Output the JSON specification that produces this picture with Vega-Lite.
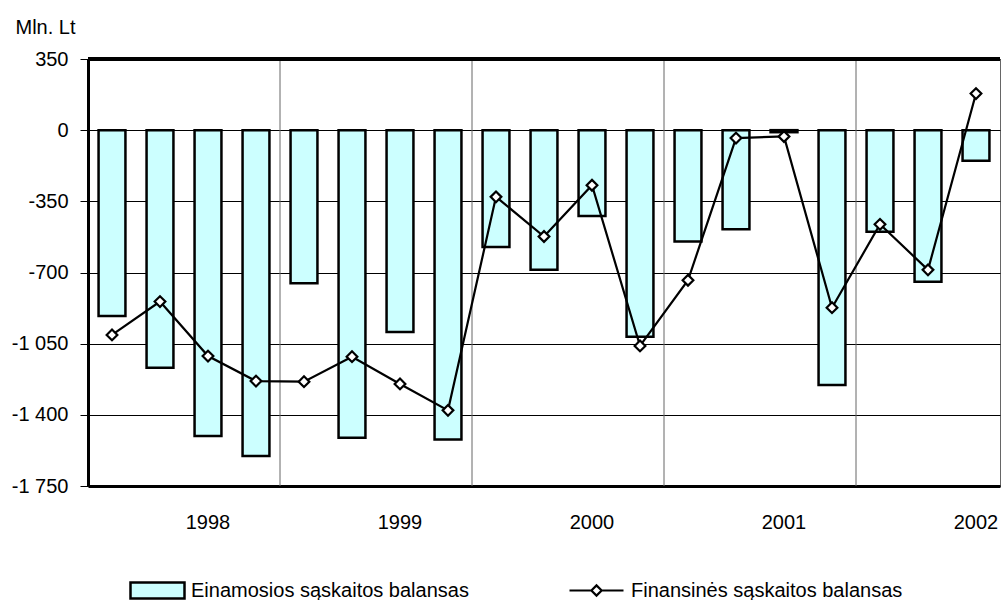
{
  "$schema": "https://vega.github.io/schema/vega-lite/v6.json",
  "width": 912,
  "height": 427,
  "autosize": {"type": "none"},
  "padding": {"left": 88, "top": 59, "right": 1, "bottom": 114},
  "background": "white",
  "config": {
    "font": "Liberation Sans",
    "view": {"stroke": "#666666", "strokeWidth": 1}
  },
  "data": {
    "values": [
      {"period": "1998 Q1", "year": 1998, "q": 1, "current": -914, "financial": -1007},
      {"period": "1998 Q2", "year": 1998, "q": 2, "current": -1168, "financial": -843},
      {"period": "1998 Q3", "year": 1998, "q": 3, "current": -1504, "financial": -1111},
      {"period": "1998 Q4", "year": 1998, "q": 4, "current": -1603, "financial": -1234},
      {"period": "1999 Q1", "year": 1999, "q": 1, "current": -753, "financial": -1237},
      {"period": "1999 Q2", "year": 1999, "q": 2, "current": -1513, "financial": -1114},
      {"period": "1999 Q3", "year": 1999, "q": 3, "current": -993, "financial": -1248},
      {"period": "1999 Q4", "year": 1999, "q": 4, "current": -1521, "financial": -1378},
      {"period": "2000 Q1", "year": 2000, "q": 1, "current": -574, "financial": -328},
      {"period": "2000 Q2", "year": 2000, "q": 2, "current": -687, "financial": -523},
      {"period": "2000 Q3", "year": 2000, "q": 3, "current": -422, "financial": -271},
      {"period": "2000 Q4", "year": 2000, "q": 4, "current": -1016, "financial": -1061},
      {"period": "2001 Q1", "year": 2001, "q": 1, "current": -548, "financial": -738},
      {"period": "2001 Q2", "year": 2001, "q": 2, "current": -487, "financial": -39},
      {"period": "2001 Q3", "year": 2001, "q": 3, "current": -10, "financial": -31},
      {"period": "2001 Q4", "year": 2001, "q": 4, "current": -1253, "financial": -873},
      {"period": "2002 Q1", "year": 2002, "q": 1, "current": -499, "financial": -463},
      {"period": "2002 Q2", "year": 2002, "q": 2, "current": -745, "financial": -687},
      {"period": "2002 Q3", "year": 2002, "q": 3, "current": -151, "financial": 180}
    ]
  },
  "layer": [
    {
      "transform": [{"filter": "datum.q == 1 && datum.year > 1998"}],
      "mark": {"type": "rule", "color": "#666666", "strokeWidth": 1},
      "encoding": {
        "x": {
          "field": "period", "type": "nominal", "sort": "ascending", "bandPosition": 0,
          "scale": {"paddingInner": 0, "paddingOuter": 0},
          "axis": {"title": null, "labelExpr": "indexof(datum.value, 'Q3') >= 0 ? substring(datum.value, 0, 4) : ''", "labelAngle": 0, "labelOverlap": false, "ticks": false, "tickSize": 0, "labelPadding": 26, "labelFontSize": 20, "labelFont": "Liberation Sans", "labelColor": "black", "domainColor": "black", "domainWidth": 3, "grid": false}
        }
      }
    },
    {
      "mark": {"type": "bar", "width": {"band": 0.56}, "stroke": "black", "strokeWidth": 2.5},
      "encoding": {
        "x": {
          "field": "period", "type": "nominal", "sort": "ascending",
          "scale": {"paddingInner": 0, "paddingOuter": 0},
          "axis": {"title": null, "labelExpr": "indexof(datum.value, 'Q3') >= 0 ? substring(datum.value, 0, 4) : ''", "labelAngle": 0, "labelOverlap": false, "ticks": false, "tickSize": 0, "labelPadding": 26, "labelFontSize": 20, "labelFont": "Liberation Sans", "labelColor": "black", "domainColor": "black", "domainWidth": 3, "grid": false}
        },
        "y": {
          "field": "current", "type": "quantitative",
          "scale": {"domain": [-1750, 350], "nice": false, "zero": false},
          "axis": {"title": "Mln. Lt", "titleAngle": 0, "titleAlign": "left", "titleBaseline": "alphabetic", "titleX": -73, "titleY": -26, "titleFontSize": 20, "titleFontWeight": "normal", "titleFont": "Liberation Sans", "titleColor": "black", "values": [-1750, -1400, -1050, -700, -350, 0, 350], "labelExpr": "(datum.value < 0 ? '-' : '') + replace(format(abs(datum.value), ','), ',', ' ')", "labelFontSize": 20, "labelFont": "Liberation Sans", "labelColor": "black", "labelPadding": 12, "tickSize": 8, "tickColor": "black", "tickWidth": 1, "domainColor": "black", "domainWidth": 3, "grid": true, "gridColor": "black", "gridWidth": 1}
        },
        "fill": {
          "datum": "Einamosios sąskaitos balansas",
          "type": "nominal",
          "scale": {"range": ["#ccffff"]},
          "legend": {
            "orient": "none", "legendX": 41, "legendY": 503, "title": null, "padding": 0,
            "symbolType": "M-1,-0.3H1V0.3H-1Z", "symbolSize": 2916,
            "symbolStrokeColor": "black", "symbolStrokeWidth": 2.5, "symbolFillColor": "#ccffff",
            "labelFontSize": 20, "labelFont": "Liberation Sans", "labelColor": "black", "labelOffset": 5, "labelLimit": 500,
            "encode": {"symbols": {"update": {"stroke": {"value": "black"}, "strokeWidth": {"value": 2.5}, "fill": {"value": "#ccffff"}, "opacity": {"value": 1}}}}
          }
        }
      }
    },
    {
      "mark": {"type": "rule", "color": "black", "strokeWidth": 3},
      "encoding": {
        "y": {
          "datum": 350, "type": "quantitative",
          "scale": {"domain": [-1750, 350], "nice": false, "zero": false},
          "axis": {"title": "Mln. Lt", "titleAngle": 0, "titleAlign": "left", "titleBaseline": "alphabetic", "titleX": -73, "titleY": -26, "titleFontSize": 20, "titleFontWeight": "normal", "titleFont": "Liberation Sans", "titleColor": "black", "values": [-1750, -1400, -1050, -700, -350, 0, 350], "labelExpr": "(datum.value < 0 ? '-' : '') + replace(format(abs(datum.value), ','), ',', ' ')", "labelFontSize": 20, "labelFont": "Liberation Sans", "labelColor": "black", "labelPadding": 12, "tickSize": 8, "tickColor": "black", "tickWidth": 1, "domainColor": "black", "domainWidth": 3, "grid": true, "gridColor": "black", "gridWidth": 1}
        }
      }
    },
    {
      "mark": {"type": "line", "strokeWidth": 2.2},
      "encoding": {
        "x": {
          "field": "period", "type": "nominal", "sort": "ascending",
          "scale": {"paddingInner": 0, "paddingOuter": 0},
          "axis": {"title": null, "labelExpr": "indexof(datum.value, 'Q3') >= 0 ? substring(datum.value, 0, 4) : ''", "labelAngle": 0, "labelOverlap": false, "ticks": false, "tickSize": 0, "labelPadding": 26, "labelFontSize": 20, "labelFont": "Liberation Sans", "labelColor": "black", "domainColor": "black", "domainWidth": 3, "grid": false}
        },
        "y": {
          "field": "financial", "type": "quantitative",
          "scale": {"domain": [-1750, 350], "nice": false, "zero": false},
          "axis": {"title": "Mln. Lt", "titleAngle": 0, "titleAlign": "left", "titleBaseline": "alphabetic", "titleX": -73, "titleY": -26, "titleFontSize": 20, "titleFontWeight": "normal", "titleFont": "Liberation Sans", "titleColor": "black", "values": [-1750, -1400, -1050, -700, -350, 0, 350], "labelExpr": "(datum.value < 0 ? '-' : '') + replace(format(abs(datum.value), ','), ',', ' ')", "labelFontSize": 20, "labelFont": "Liberation Sans", "labelColor": "black", "labelPadding": 12, "tickSize": 8, "tickColor": "black", "tickWidth": 1, "domainColor": "black", "domainWidth": 3, "grid": true, "gridColor": "black", "gridWidth": 1}
        },
        "stroke": {
          "datum": "Finansinės sąskaitos balansas",
          "type": "nominal",
          "scale": {"range": ["black"]},
          "legend": {
            "orient": "none", "legendX": 480, "legendY": 503, "title": null, "padding": 0,
            "symbolType": "M-1,0H-0.19M0.19,0H1M-0.19,0L0,-0.19L0.19,0L0,0.19Z", "symbolSize": 2916,
            "symbolStrokeWidth": 2.2, "symbolFillColor": "white",
            "labelFontSize": 20, "labelFont": "Liberation Sans", "labelColor": "black", "labelOffset": 6, "labelLimit": 500,
            "encode": {"symbols": {"update": {"stroke": {"value": "black"}, "strokeWidth": {"value": 2.2}, "fill": {"value": "white"}, "opacity": {"value": 1}}}}
          }
        }
      }
    },
    {
      "mark": {"type": "point", "shape": "diamond", "filled": true, "fill": "white", "stroke": "black", "strokeWidth": 2.2, "size": 115, "opacity": 1},
      "encoding": {
        "x": {
          "field": "period", "type": "nominal", "sort": "ascending",
          "scale": {"paddingInner": 0, "paddingOuter": 0},
          "axis": {"title": null, "labelExpr": "indexof(datum.value, 'Q3') >= 0 ? substring(datum.value, 0, 4) : ''", "labelAngle": 0, "labelOverlap": false, "ticks": false, "tickSize": 0, "labelPadding": 26, "labelFontSize": 20, "labelFont": "Liberation Sans", "labelColor": "black", "domainColor": "black", "domainWidth": 3, "grid": false}
        },
        "y": {
          "field": "financial", "type": "quantitative",
          "scale": {"domain": [-1750, 350], "nice": false, "zero": false},
          "axis": {"title": "Mln. Lt", "titleAngle": 0, "titleAlign": "left", "titleBaseline": "alphabetic", "titleX": -73, "titleY": -26, "titleFontSize": 20, "titleFontWeight": "normal", "titleFont": "Liberation Sans", "titleColor": "black", "values": [-1750, -1400, -1050, -700, -350, 0, 350], "labelExpr": "(datum.value < 0 ? '-' : '') + replace(format(abs(datum.value), ','), ',', ' ')", "labelFontSize": 20, "labelFont": "Liberation Sans", "labelColor": "black", "labelPadding": 12, "tickSize": 8, "tickColor": "black", "tickWidth": 1, "domainColor": "black", "domainWidth": 3, "grid": true, "gridColor": "black", "gridWidth": 1}
        }
      }
    }
  ]
}
